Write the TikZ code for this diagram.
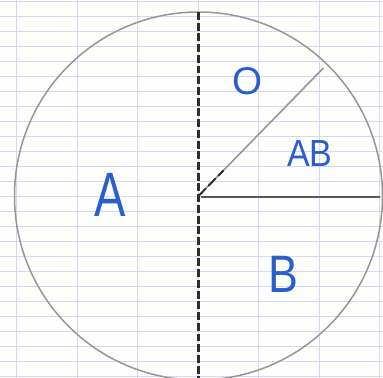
\documentclass[tikz,border=0pt]{standalone}
\usepackage{fontspec}
\setmainfont{Liberation Sans}
\usetikzlibrary{calc}
\begin{document}
\begin{tikzpicture}[x=0.02cm, y=-0.02cm]

% --- parameters ---
\def\rad{184}     % circle radius in px
\def\row{15}      % ruled line spacing
\def\col{60.5}    % margin column spacing

% --- colors ---
\definecolor{papercol}{RGB}{254,254,252}
\definecolor{rulecol}{RGB}{215,215,243}
\definecolor{pencilcol}{RGB}{150,150,150}
\definecolor{inkcol}{RGB}{45,45,50}
\definecolor{penblue}{RGB}{40,95,205}

\tikzset{
    label/.style={text=penblue, inner sep=0pt, transform shape},
}

% --- paper ---
\fill[papercol] (0,0) rectangle (383,378);
\useasboundingbox (0,0) rectangle (383,378);

% --- ruled lines ---
\foreach \k in {0,...,25} {
    \draw[rulecol, line width=0.9pt] (0, 1.7+\k*\row) -- (383, 1.7+\k*\row);
}
\foreach \k in {0,...,6} {
    \draw[rulecol, line width=0.6pt] (16.7+\k*\col, 0) -- (16.7+\k*\col, 378);
}

% --- circle and radii ---
\coordinate (ctr) at (198.5,196);
\coordinate (top) at (198.5,12);
\coordinate (bot) at (198.5,378);
\coordinate (rim) at (380,196.7);
\coordinate (rayend) at ($(ctr)+(-45.7:179)$);

\draw[pencilcol, line width=0.85pt] (ctr) circle[radius=\rad];

\draw[pencilcol, line width=0.9pt] (ctr) -- (rayend);
\draw[inkcol, line width=1.1pt, dash pattern=on 6pt off 2pt]
    (ctr) -- ($(ctr)!0.2!(rayend)$);

\draw[inkcol!80, line width=1.1pt] ($(ctr)+(3,0.7)$) -- (rim);

\draw[inkcol, line width=1.4pt, dash pattern=on 4.5pt off 1.6pt] (top) -- (bot);

% --- labels ---
\node[label, font=\fontsize{22}{22}\selectfont]  (lblO)  at (248,81)  {O};
\node[label, font=\fontsize{21.5}{22}\selectfont, xscale=0.9] (lblAB) at (310,154) {AB};
\node[label, font=\fontsize{35.7}{36}\selectfont, xscale=0.75] (lblA)  at (110,195) {A};
\node[label, font=\fontsize{30}{30}\selectfont, xscale=0.85]  (lblB)  at (283,274) {B};

\end{tikzpicture}
\end{document}
